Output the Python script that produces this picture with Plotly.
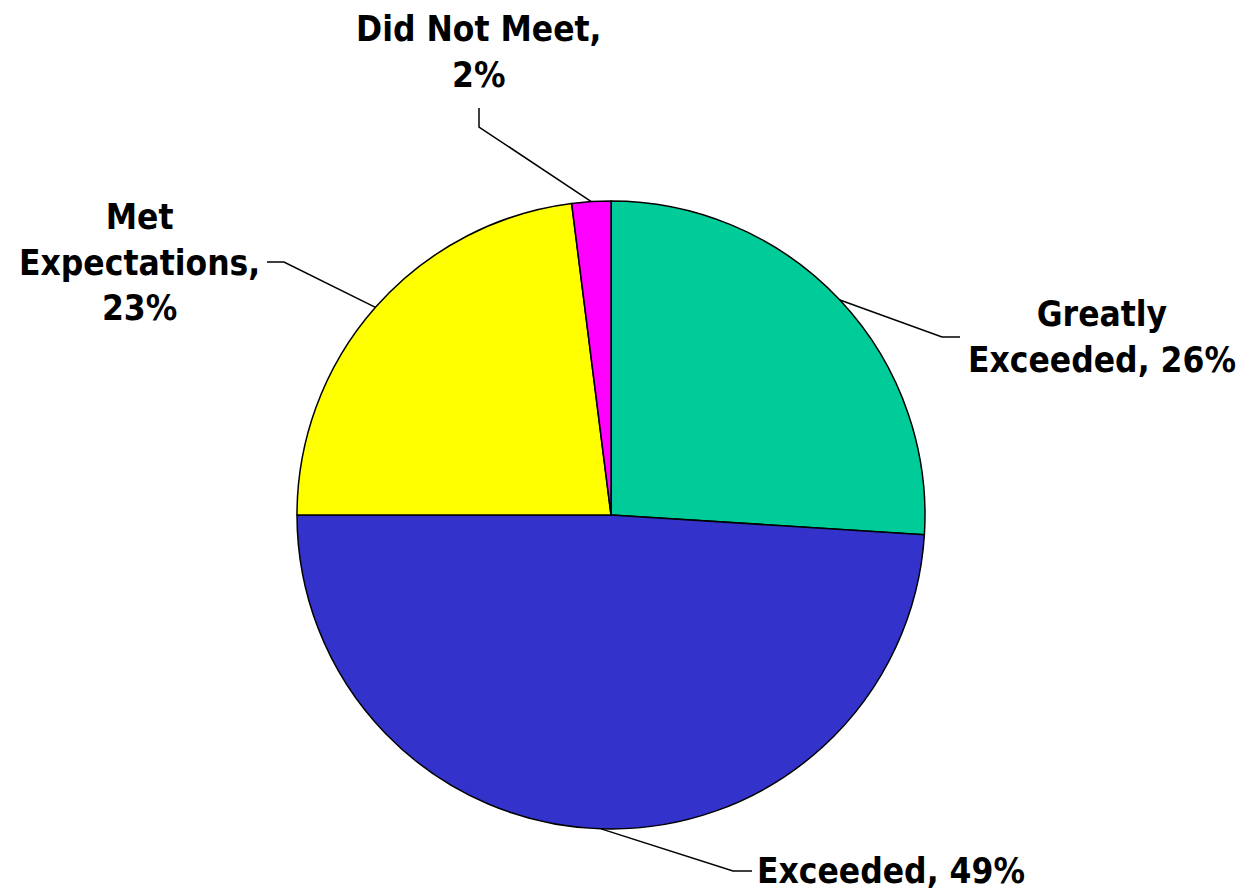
import math
import plotly.graph_objects as go

# data
labels = ['Greatly Exceeded', 'Exceeded', 'Met Expectations', 'Did Not Meet']
values = [26, 49, 23, 2]
colors = ['#00CC99', '#3333CC', '#FFFF00', '#FF00FF']
label_text = ['Greatly<br>Exceeded, 26%', 'Exceeded, 49%',
              'Met<br>Expectations,<br>23%', 'Did Not Meet,<br>2%']

# page has an 8px body margin, so the figure is offset from the screenshot
OFF = 8
W, H = 1249 - OFF, 891 - OFF
CX, CY, R = 611, 515, 314

# label layout (screen pixels): text centre, elbow, end of leader next to text
label_pos = [(1102, 337), (891, 871), (139, 262), (479, 52)]
elbows = [(942, 337), (733, 871), (284, 262), (479, 127)]
ends = [(960, 337), (752, 871), (267, 262), (479, 108)]


def px(x, y):
    return (x - OFF) / W, 1 - (y - OFF) / H


fig = go.Figure(data=[go.Pie(labels=labels, values=values, sort=False,
                             direction='clockwise', rotation=0,
                             marker={'colors': colors,
                                     'line': {'color': 'black', 'width': 1.5}},
                             textinfo='none', hoverinfo='label+percent',
                             domain={'x': [px(CX - R, 0)[0], px(CX + R, 0)[0]],
                                     'y': [px(0, CY + R)[1], px(0, CY - R)[1]]})])

font = dict(family='DejaVu Sans Condensed, DejaVu Sans', size=35,
            color='black', weight='bold')
total = sum(values)
cum = 0
for i, v in enumerate(values):
    mid = (cum + v / 2) / total * 2 * math.pi
    cum += v
    sx, sy = CX + R * math.sin(mid), CY - R * math.cos(mid)
    pts = [px(sx, sy), px(*elbows[i]), px(*ends[i])]
    path = 'M {},{} L {},{} L {},{}'.format(*[c for p in pts for c in p])
    fig.add_shape(type='path', path=path, xref='paper', yref='paper',
                  line={'color': 'black', 'width': 1.5})
    tx, ty = px(*label_pos[i])
    fig.add_annotation(text=label_text[i], x=tx, y=ty, xref='paper',
                       yref='paper', xanchor='center', yanchor='middle',
                       showarrow=False, align='center', font=font)

fig.update_layout(width=W, height=H, showlegend=False,
                  margin={'l': 0, 'r': 0, 't': 0, 'b': 0},
                  paper_bgcolor='white', plot_bgcolor='white')
fig.write_html("out.html")
